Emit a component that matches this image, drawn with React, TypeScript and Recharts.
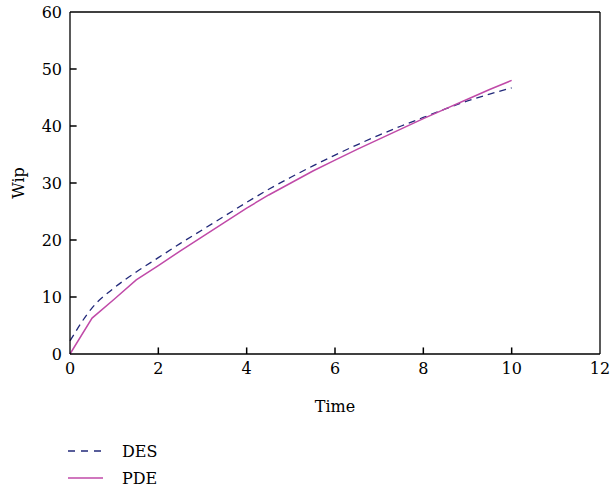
import { Line, LineChart, ReferenceLine, XAxis, YAxis } from 'recharts';

const times = [0, 0.5, 1, 1.5, 2, 2.5, 3, 3.5, 4, 4.5, 5, 5.5, 6, 6.5, 7, 7.5, 8, 8.5, 9, 9.5, 10];
const desWip = [2.3, 8.1, 11.6, 14.4, 16.9, 19.4, 21.8, 24.2, 26.6, 28.9, 31.0, 33.0, 34.9, 36.7, 38.4, 40.0, 41.5, 43.0, 44.4, 45.6, 46.7];
const pdeWip = [0, 6.3, 9.6, 13.0, 15.5, 18.1, 20.6, 23.1, 25.6, 27.9, 30.0, 32.1, 34.0, 35.9, 37.7, 39.5, 41.3, 43.0, 44.7, 46.4, 48.0];
const xTicks = [0, 2, 4, 6, 8, 10, 12];
const yTicks = [0, 10, 20, 30, 40, 50, 60];

const data = times.map((t, i) => ({ t, des: desWip[i], pde: pdeWip[i] }));

const FONT = '"DejaVu Serif", serif';
const DES_COLOR = '#22297a';
const PDE_COLOR = '#c04aa8';
const tickFont = { fontSize: 16, fontFamily: FONT, fill: '#000' };

// inward tick marks, length in data units (~7px)
const X_TICK_LEN = 0.15;
const Y_TICK_LEN = 1.15;

function LegendBox() {
  const rows = [
    { name: 'DES', color: DES_COLOR, dash: '7 6' },
    { name: 'PDE', color: PDE_COLOR, dash: undefined },
  ];
  return (
    <svg width={140} height={60} style={{ position: 'absolute', left: 66, top: 440 }}>
      {rows.map((r, i) => (
        <g key={r.name} transform={`translate(0, ${i * 27})`}>
          <line x1={2} y1={11} x2={37} y2={11} stroke={r.color} strokeWidth={1.5} strokeDasharray={r.dash} />
          <text x={56} y={17} fontSize={16} fontFamily={FONT} fill="#000">
            {r.name}
          </text>
        </g>
      ))}
    </svg>
  );
}

export default function App() {
  return (
    <div style={{ position: 'absolute', left: 0, top: 0, width: 612, height: 491, background: '#fff' }}>
      <LineChart width={612} height={491} data={data} margin={{ top: 12, right: 12, bottom: 87, left: 10 }}>
        <XAxis
          dataKey="t"
          type="number"
          domain={[0, 12]}
          ticks={xTicks}
          tickLine={false}
          tickSize={6}
          tickMargin={3}
          tick={tickFont}
          axisLine={{ stroke: '#000', strokeWidth: 1.3 }}
          height={50}
          label={{ value: 'Time', position: 'insideBottom', offset: 0, dy: 8, fontSize: 16, fontFamily: FONT, fill: '#000' }}
        />
        <YAxis
          type="number"
          domain={[0, 60]}
          ticks={yTicks}
          tickLine={false}
          tickSize={6}
          tickMargin={2}
          tick={tickFont}
          axisLine={{ stroke: '#000', strokeWidth: 1.3 }}
          width={60}
          label={{ value: 'Wip', angle: -90, position: 'insideLeft', offset: 2, dx: 6, fontSize: 16, fontFamily: FONT, fill: '#000', textAnchor: 'middle' }}
        />
        <ReferenceLine y={60} stroke="#000" strokeWidth={1.3} ifOverflow="visible" />
        <ReferenceLine x={12} stroke="#000" strokeWidth={1.3} ifOverflow="visible" />
        {xTicks.slice(1, -1).map((v) => (
          <ReferenceLine key={`xt${v}`} segment={[{ x: v, y: 0 }, { x: v, y: Y_TICK_LEN }]} stroke="#000" strokeWidth={1.5} ifOverflow="visible" />
        ))}
        {yTicks.slice(1, -1).map((v) => (
          <ReferenceLine key={`yt${v}`} segment={[{ x: 0, y: v }, { x: X_TICK_LEN, y: v }]} stroke="#000" strokeWidth={1.5} ifOverflow="visible" />
        ))}
        <Line type="monotone" dataKey="des" stroke={DES_COLOR} strokeWidth={1.3} strokeDasharray="7 5" dot={false} isAnimationActive={false} />
        <Line type="linear" dataKey="pde" stroke={PDE_COLOR} strokeWidth={1.5} dot={false} isAnimationActive={false} />
      </LineChart>
      <LegendBox />
    </div>
  );
}
